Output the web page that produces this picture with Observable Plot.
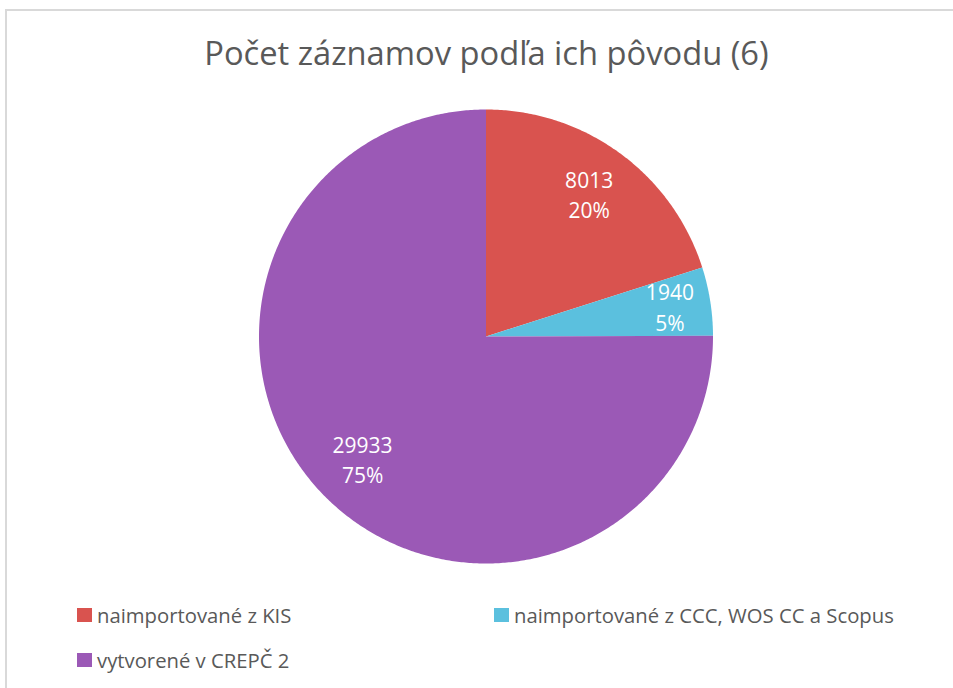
<!DOCTYPE html>
<html>
<head>
<meta charset="utf-8">
<script src="https://cdn.jsdelivr.net/npm/d3@7"></script>
<script src="https://cdn.jsdelivr.net/npm/@observablehq/plot@0.6"></script>
<style>
  html, body { margin: 0; padding: 0; background: #fff; }
  body { width: 953px; height: 688px; overflow: hidden; position: relative; font-family: "Open Sans", sans-serif; }
  #frame { position: absolute; left: 5px; top: 9px; width: 960px; height: 700px; border: 2px solid #d9d9d9; box-sizing: border-box; }
  #title { position: absolute; left: 0; width: 973px; top: 37px; line-height: 1; text-align: center; font-size: 32.7px; color: #595959; white-space: nowrap; }
  #chart { position: absolute; left: 0; top: 90px; }
  .leg { position: absolute; font-size: 20.3px; color: #595959; white-space: nowrap; display: flex; align-items: center; }
  .leg .sw { width: 15px; height: 14px; margin-right: 5px; display: inline-block; }
</style>
</head>
<body>
<div id="frame"></div>
<div id="title">Počet záznamov podľa ich pôvodu (6)</div>
<div id="chart"></div>
<div id="legend"></div>
<script>
const categories = ["naimportované z KIS", "naimportované z CCC, WOS CC a Scopus", "vytvorené v CREPČ 2"];
const values = [8013, 1940, 29933];
const colors = ["#d9534f", "#5bc0de", "#9b59b6"];

const W = 953, H = 490;
const cx = 485.5, cy = 246, R = 227;

const total = d3.sum(values);
const pie = d3.pie().sort(null).value(d => d.value);
const arcs = pie(categories.map((c, i) => ({category: c, value: values[i]})));

// slice outlines in unit-radius coordinates (y grows downward)
const outline = [];
arcs.forEach(a => {
  const c = a.data.category;
  outline.push({category: c, x: 0, y: 0});
  const steps = Math.max(2, Math.ceil((a.endAngle - a.startAngle) / (Math.PI / 360)));
  for (let k = 0; k <= steps; k++) {
    const t = a.startAngle + (a.endAngle - a.startAngle) * k / steps;
    outline.push({category: c, x: Math.sin(t), y: -Math.cos(t)});
  }
});

const labels = arcs.map(a => {
  const mid = (a.startAngle + a.endAngle) / 2;
  const span = a.endAngle - a.startAngle;
  const f = span < Math.PI / 6 ? 0.82 : 0.77;
  return {
    category: a.data.category,
    x: f * Math.sin(mid),
    y: -f * Math.cos(mid),
    text: a.data.value + "\n" + Math.round(a.data.value / total * 100) + "%"
  };
});

const chart = Plot.plot({
  width: W, height: H,
  margin: 0,
  style: {background: "transparent", overflow: "visible"},
  x: {domain: [-cx / R, (W - cx) / R], range: [0, W], axis: null},
  y: {domain: [-cy / R, (H - cy) / R], range: [0, H], axis: null},
  color: {domain: categories, range: colors},
  marks: [
    Plot.line(outline, {x: "x", y: "y", z: "category", fill: "category", stroke: null, curve: "linear-closed"}),
    Plot.text(labels, {x: "x", y: "y", dy: -2, text: "text", fill: "white", fontSize: 21, lineHeight: 1.45, fontFamily: "Open Sans"})
  ]
});
document.getElementById("chart").appendChild(chart);

const legendPos = [[77, 615], [494, 615], [77, 660]];
const leg = document.getElementById("legend");
categories.forEach((c, i) => {
  const d = document.createElement("div");
  d.className = "leg";
  d.style.left = legendPos[i][0] + "px";
  d.style.top = (legendPos[i][1] - 14) + "px";
  d.style.height = "28px";
  d.innerHTML = `<span class="sw" style="background:${colors[i]}"></span><span>${c}</span>`;
  leg.appendChild(d);
});
</script>
</body>
</html>
